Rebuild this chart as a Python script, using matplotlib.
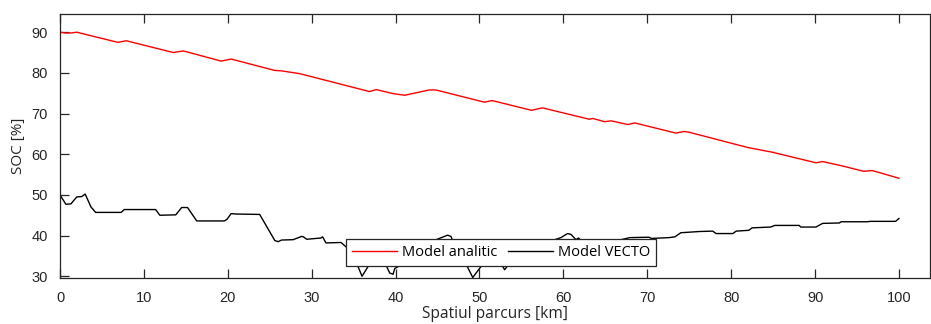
import matplotlib
matplotlib.use("Agg")
import matplotlib.pyplot as plt

# Distance travelled [km] and battery state of charge [%]
dist_analitic = [0.0, 0.7, 1.3, 2.0, 6.9, 7.9, 13.5, 14.7, 19.2, 20.4, 25.6, 26.4,
                 28.6, 36.9, 37.7, 39.7, 41.1, 44.0, 44.8, 50.0, 50.6, 51.5, 56.2,
                 57.5, 60.1, 63.1, 63.5, 64.9, 65.7, 67.7, 68.5, 73.4, 74.4, 75.0,
                 80.4, 82.1, 84.9, 90.1, 90.9, 93.3, 95.8, 96.8, 100.0]
soc_analitic = [90.0, 89.8, 89.8, 90.0, 87.5, 87.9, 85.0, 85.4, 82.9, 83.4, 80.6, 80.5,
                79.8, 75.4, 75.9, 74.9, 74.5, 75.8, 75.8, 73.1, 72.8, 73.2, 70.8,
                71.4, 70.1, 68.6, 68.8, 68.0, 68.2, 67.3, 67.7, 65.2, 65.6, 65.4,
                62.5, 61.6, 60.5, 57.9, 58.2, 57.1, 55.8, 56.0, 54.1]

dist_vecto = [0.0, 0.7, 1.3, 2.0, 2.6, 3.0, 3.7, 4.25, 7.3, 7.65, 11.4, 11.9, 13.8,
              14.5, 15.2, 16.3, 19.6, 19.9, 20.4, 21.0, 23.8, 25.6, 26.0, 26.4, 27.8,
              28.8, 29.0, 29.4, 31.1, 31.3, 31.7, 33.5, 34.5, 35.4, 36.0, 36.9, 37.6,
              38.3, 38.8, 39.3, 39.7, 39.9, 40.5, 41.3, 42.2, 43.5, 44.6, 46.2, 46.6,
              46.8, 47.6, 48.4, 49.2, 50.4, 51.5, 52.6, 53.0, 53.5, 55.0, 57.0, 58.7,
              59.7, 60.5, 60.9, 61.5, 61.8, 62.1, 63.2, 65.0, 66.9, 67.9, 70.2, 70.5,
              72.6, 73.3, 74.0, 76.2, 77.8, 78.2, 80.2, 80.6, 82.1, 82.5, 84.7, 85.2,
              88.1, 88.3, 90.1, 90.9, 92.9, 93.1, 96.2, 96.6, 99.6, 100.0]
soc_vecto = [50.0, 47.7, 47.8, 49.5, 49.6, 50.2, 47.0, 45.7, 45.7, 46.4, 46.4, 45.0, 45.1,
             46.9, 46.9, 43.6, 43.6, 44.0, 45.4, 45.3, 45.2, 38.8, 38.5, 38.9, 39.0,
             39.8, 39.7, 39.1, 39.4, 39.7, 38.2, 38.3, 36.5, 33.0, 30.0, 33.0, 35.5,
             35.0, 33.0, 30.8, 30.5, 31.9, 32.6, 33.0, 34.0, 36.0, 38.8, 40.1, 39.8,
             38.8, 36.0, 33.0, 29.7, 33.0, 34.5, 33.0, 31.6, 33.0, 35.0, 37.0, 38.8,
             39.5, 40.5, 40.3, 39.0, 39.4, 38.8, 37.5, 37.5, 39.0, 39.5, 39.6, 39.3,
             39.5, 39.7, 40.7, 41.0, 41.1, 40.5, 40.5, 41.1, 41.3, 41.9, 42.1, 42.5,
             42.5, 42.1, 42.1, 43.0, 43.1, 43.4, 43.4, 43.5, 43.5, 44.2]

x_ticks = [0, 10, 20, 30, 40, 50, 60, 70, 80, 90, 100]
y_ticks = [30, 40, 50, 60, 70, 80, 90]

axis_col = "#262626"
label_font = ["Open Sans", "DejaVu Sans"]
tick_font = ["Liberation Sans", "DejaVu Sans"]

fig = plt.figure(figsize=(9.31, 3.24), dpi=100)
ax = fig.add_axes([60 / 931, 1 - 278.3 / 324, 870 / 931, (278.3 - 14.3) / 324])

ax.plot(dist_analitic, soc_analitic, color="#ff0000", lw=1.0, label="Model analitic")
ax.plot(dist_vecto, soc_vecto, color="#000000", lw=1.0, label="Model VECTO")

ax.set_xlim(0, 103.7)
ax.set_ylim(29.5, 94.4)
ax.set_xticks(x_ticks)
ax.set_yticks(y_ticks)

for s in ax.spines.values():
    s.set_color(axis_col)
    s.set_linewidth(0.9)

ax.tick_params(axis="x", direction="in", length=6.5, width=0.9, color=axis_col,
               top=True, bottom=True, pad=9, labelsize=10.5, labelcolor=axis_col)
ax.tick_params(axis="y", direction="in", length=6.5, width=0.9, color=axis_col,
               left=True, right=False, pad=9, labelsize=10.5, labelcolor=axis_col)
for lab in ax.get_xticklabels() + ax.get_yticklabels():
    lab.set_family(tick_font)

ax.set_xlabel("Spatiul parcurs [km]", family=label_font, fontsize=11.2,
              color=axis_col, labelpad=1)
ax.set_ylabel("SOC [%]", family=label_font, fontsize=11, color=axis_col,
              labelpad=4)

leg = ax.legend(loc="lower center", bbox_to_anchor=(0.507, 0.046), ncol=2,
                frameon=True, fancybox=False, framealpha=1.0, edgecolor=axis_col,
                handlelength=3.1, handletextpad=0.35, columnspacing=0.75,
                borderpad=0.4, borderaxespad=0.0,
                prop={"family": label_font, "size": 10.5})
leg.get_frame().set_linewidth(0.9)

fig.savefig("out.png", dpi=100)
